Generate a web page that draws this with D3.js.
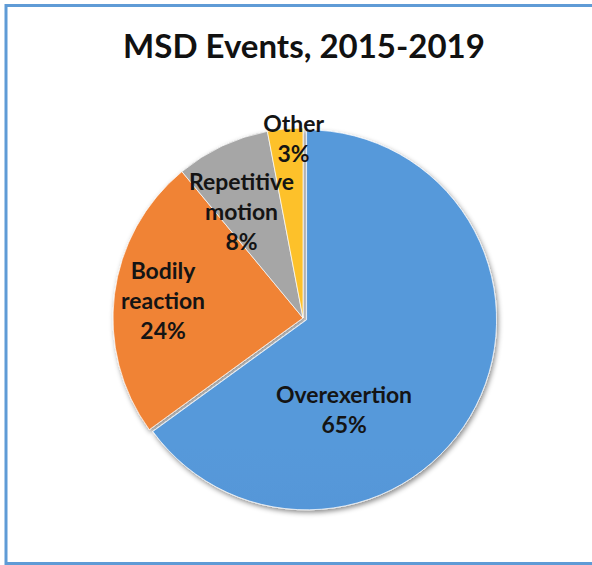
<!DOCTYPE html>
<html>
<head>
<meta charset="utf-8">
<script src="https://cdn.jsdelivr.net/npm/d3@7/dist/d3.min.js"></script>
<style>
  html, body { margin: 0; padding: 0; background: #fff; }
  svg { display: block; }
  text { font-family: Lato, "Open Sans", sans-serif; font-weight: 700; }
</style>
</head>
<body>
<svg id="chart" width="592" height="565"></svg>
<script>
const title = "MSD Events, 2015-2019";
const categories = ["Overexertion", "Bodily reaction", "Repetitive motion", "Other"];
const values = [65, 24, 8, 3];
const labelLines = [["Overexertion", "65%"], ["Bodily", "reaction", "24%"], ["Repetitive", "motion", "8%"], ["Other", "3%"]];
const colors = ["#5799da", "#f08335", "#a6a6a6", "#fdc12a"];
const colorsDark = ["#4a89cd", "#e6712a", "#9c9c9c", "#f5b81a"];

const W = 592, H = 565;
const cx = 303, cy = 318, R = 190;
const explode = [4, 0, 0, 0];
// label layout: angle (deg clockwise from top) and radius from center
const labelAngle = [156, 277, 330, 357];
const labelRadius = [101, 141, 123, 179];
const lineH = 30;

const svg = d3.select("#chart");
const defs = svg.append("defs");

const flt = defs.append("filter").attr("id", "shadow")
  .attr("x", "-20%").attr("y", "-20%").attr("width", "140%").attr("height", "140%");
flt.append("feDropShadow").attr("dx", 1.5).attr("dy", 2.5).attr("stdDeviation", 2.5)
  .attr("flood-color", "#000").attr("flood-opacity", 0.45);

colors.forEach((c, i) => {
  const g = defs.append("linearGradient").attr("id", "grad" + i)
    .attr("gradientUnits", "userSpaceOnUse")
    .attr("x1", 0).attr("y1", cy - R).attr("x2", 0).attr("y2", cy + R);
  g.append("stop").attr("offset", "0%").attr("stop-color", c);
  g.append("stop").attr("offset", "100%").attr("stop-color", colorsDark[i]);
});

// border
svg.append("rect")
  .attr("x", 6).attr("y", 5.5).attr("width", 620).attr("height", 558)
  .attr("fill", "#fff").attr("stroke", "#5f9bd6").attr("stroke-width", 3);

// title
const titleText = svg.append("text")
  .attr("x", 304).attr("y", 58)
  .attr("text-anchor", "middle")
  .attr("fill", "#111")
  .attr("font-size", 34)
  .text(title);
const tw = titleText.node().getComputedTextLength();
titleText.attr("font-size", 34 * 362 / tw);

const pie = d3.pie().sort(null).value(d => d)
  .startAngle(0).endAngle(2 * Math.PI);
const arcs = pie(values);
const arc = d3.arc().innerRadius(0).outerRadius(R);

const pieG = svg.append("g").attr("filter", "url(#shadow)");
pieG.selectAll("path")
  .data(arcs)
  .join("path")
  .attr("transform", (d, i) => {
    const m = (d.startAngle + d.endAngle) / 2;
    const ox = cx + explode[i] * Math.sin(m);
    const oy = cy - explode[i] * Math.cos(m);
    return `translate(${ox},${oy})`;
  })
  .attr("d", arc)
  .attr("fill", (d, i) => `url(#grad${i})`)
  .attr("stroke", "#fff")
  .attr("stroke-width", 1)
  .attr("stroke-opacity", 0.7);

// labels
const probe = svg.append("text").attr("font-size", 24).text(labelLines[0][0]);
const lw = probe.node().getComputedTextLength();
probe.remove();
const labelSize = 24 * 136 / lw;
const capH = labelSize * 0.7;

const lg = svg.append("g");
arcs.forEach((d, i) => {
  const a = labelAngle[i] * Math.PI / 180;
  const x = cx + labelRadius[i] * Math.sin(a);
  const y = cy - labelRadius[i] * Math.cos(a);
  const lines = labelLines[i];
  const first = y - (lines.length - 1) * lineH / 2 + capH / 2;
  const t = lg.append("text")
    .attr("text-anchor", "middle")
    .attr("fill", "#141414")
    .attr("font-size", labelSize);
  lines.forEach((ln, k) => {
    t.append("tspan").attr("x", x).attr("y", first + k * lineH).text(ln);
  });
});
</script>
</body>
</html>
